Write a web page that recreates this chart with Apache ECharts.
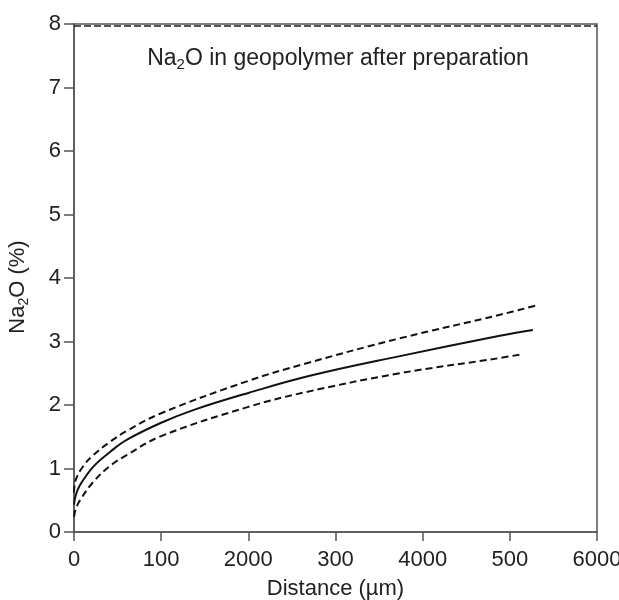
<!DOCTYPE html>
<html><head><meta charset="utf-8">
<script src="https://cdn.jsdelivr.net/npm/echarts@6/dist/echarts.min.js"></script>
<style>html,body{margin:0;padding:0;background:#fff}#c{width:619px;height:600px}</style>
</head><body><div id="c"></div>
<script>
const xTickValues = [0, 1000, 2000, 3000, 4000, 5000, 6000];
const xTickLabels = ['0', '100', '2000', '300', '4000', '500', '6000'];
const yTickLabels = ['0', '1', '2', '3', '4', '5', '6', '7', '8'];
const solidX = [0, 20, 69, 222, 413, 604, 1000, 1368, 2000, 2706, 3739, 4885, 5264];
const solidY = [0.43, 0.58, 0.74, 1.03, 1.26, 1.45, 1.72, 1.92, 2.19, 2.46, 2.77, 3.09, 3.18];
const upperX = [0, 20, 107, 222, 413, 604, 1000, 2000, 2650, 3739, 4885, 5310];
const upperY = [0.62, 0.82, 1.04, 1.21, 1.42, 1.59, 1.87, 2.38, 2.65, 3.05, 3.42, 3.57];
const lowerX = [0, 20, 69, 222, 413, 604, 1000, 2000, 2650, 3739, 4885, 5137];
const lowerY = [0.24, 0.36, 0.50, 0.79, 1.04, 1.21, 1.51, 1.97, 2.20, 2.50, 2.74, 2.80];
const topLineX = [0, 6000];
const topLineY = [7.97, 7.97];

const pairs = (xs, ys) => xs.map((x, i) => [x, ys[i]]);
const FONT = 'Liberation Sans, Arial, sans-serif';
const FS = 22;
const chart = echarts.init(document.getElementById('c'));
chart.setOption({
  animation: false,
  grid: { left: 74, right: 22, top: 24, bottom: 68, show: true, borderColor: '#555', borderWidth: 1.5,
    backgroundColor: 'transparent', containLabel: false, outerBoundsMode: 'none' },
  title: {
    text: 'Na{sub|2}O in geopolymer after preparation',
    left: 333, top: 40, textAlign: 'center',
    textStyle: { fontFamily: FONT, fontSize: 23, fontWeight: 'normal', color: '#222',
      rich: { sub: { fontSize: 15, fontFamily: FONT, color: '#222', padding: [12, 0, 0, 0] } } }
  },
  xAxis: {
    type: 'value', min: 0, max: 6000, interval: 1000,
    name: 'Distance (µm)', nameLocation: 'middle', nameGap: 46,
    nameTextStyle: { fontFamily: FONT, fontSize: FS, color: '#222' },
    axisLine: { show: true, lineStyle: { color: '#555', width: 1.5 } },
    axisTick: { show: true, length: 9, inside: false, lineStyle: { color: '#555', width: 1.5 } },
    axisLabel: { fontFamily: FONT, fontSize: FS, color: '#222', margin: 17,
      formatter: v => { const i = xTickValues.indexOf(v); return i >= 0 ? xTickLabels[i] : ''; } },
    splitLine: { show: false }
  },
  yAxis: {
    type: 'value', min: 0, max: 8, interval: 1,
    name: 'Na{sub|2}O (%)', nameLocation: 'middle', nameGap: 43, nameRotate: 90,
    nameTextStyle: { fontFamily: FONT, fontSize: FS, color: '#222', padding: [0, 18, 0, 0],
      rich: { sub: { fontSize: 14, fontFamily: FONT, color: '#222', padding: [12, 0, 0, 0] } } },
    axisLine: { show: true, lineStyle: { color: '#555', width: 1.5 } },
    axisTick: { show: true, length: 10, inside: false, lineStyle: { color: '#555', width: 1.5 } },
    axisLabel: { fontFamily: FONT, fontSize: FS, color: '#222', margin: 13,
      formatter: v => yTickLabels[v] },
    splitLine: { show: false }
  },
  series: [
    { type: 'line', data: pairs(solidX, solidY), smooth: 0.4, showSymbol: false,
      lineStyle: { color: '#111', width: 2, type: 'solid' } },
    { type: 'line', data: pairs(upperX, upperY), smooth: 0.4, showSymbol: false,
      lineStyle: { color: '#111', width: 2, type: [7, 4] } },
    { type: 'line', data: pairs(lowerX, lowerY), smooth: 0.4, showSymbol: false,
      lineStyle: { color: '#111', width: 2, type: [7, 4] } },
    { type: 'line', data: pairs(topLineX, topLineY), showSymbol: false,
      lineStyle: { color: '#222', width: 1.5, type: [7, 3] } }
  ]
});
</script></body></html>
